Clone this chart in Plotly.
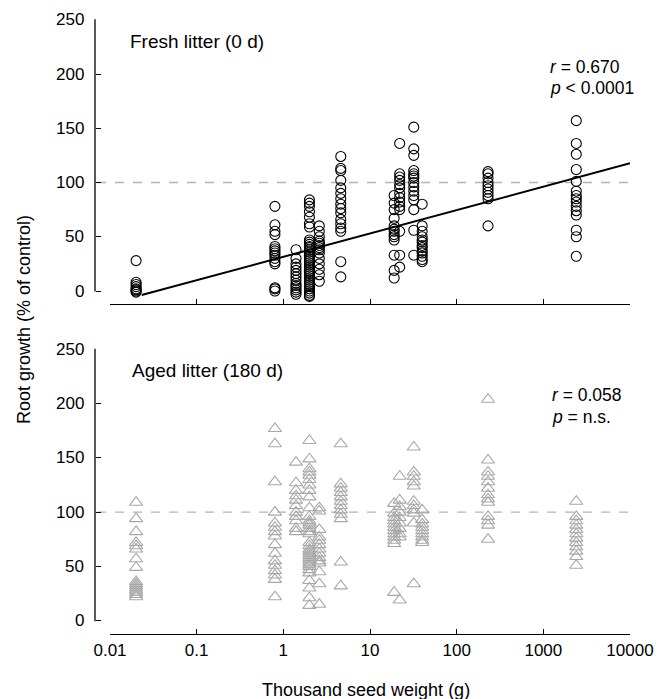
import plotly.graph_objects as go
import math

W, H = 657, 699

# ---------------- data ----------------
seed_weights = [0.02, 0.8, 1.4, 2.0, 2.6, 4.6, 19, 22, 32, 40, 230, 2400]
x_ticks = [0.01, 0.1, 1, 10, 100, 1000, 10000]
x_tick_labels = ["0.01", "0.1", "1", "10", "100", "1000", "10000"]
y_ticks = [0, 50, 100, 150, 200, 250]

fresh_growth = [
    [28, 8, 6, 4, 2, 1, 0, -1],
    [78, 61, 55, 52, 41, 39, 37, 35, 33, 30, 27, 25, 3, 2, 0],
    [38, 30, 25, 22, 19, 16, 13, 10, 7, 5, 3, 1, -1, -3],
    [84, 81, 78, 73, 68, 62, 59, 47, 45, 43, 41, 40, 38, 36, 34, 32, 30, 28, 26, 24,
     22, 20, 18, 16, 14, 12, 10, 8, 6, 4, 2, 0, -2, -4, -5],
    [60, 55, 50, 46, 44, 42, 40, 38, 35, 30, 25, 20, 15, 9],
    [124, 113, 111, 102, 95, 90, 85, 80, 76, 72, 66, 62, 58, 55, 27, 13],
    [88, 81, 75, 67, 60, 57, 55, 52, 50, 47, 33, 19, 12],
    [136, 108, 105, 102, 98, 95, 90, 86, 82, 78, 75, 55, 33, 22],
    [151, 131, 125, 111, 108, 106, 104, 100, 96, 92, 88, 84, 75, 56, 33],
    [80, 60, 55, 50, 47, 45, 42, 40, 37, 35, 32, 29, 27],
    [110, 108, 104, 100, 97, 94, 91, 88, 85, 60],
    [157, 136, 126, 112, 101, 92, 88, 85, 82, 78, 74, 70, 56, 50, 32],
]

aged_growth = [
    [109, 94, 82, 72, 69, 66, 57, 49, 36, 34, 32, 30, 28, 26, 24, 22],
    [177, 163, 128, 100, 90, 86, 82, 78, 70, 62, 55, 51, 46, 42, 38, 22],
    [146, 127, 120, 115, 111, 106, 100, 96, 92, 85, 82],
    [166, 149, 140, 137, 134, 130, 125, 120, 114, 104, 96, 92, 90, 88, 85, 82, 80,
     72, 69, 66, 64, 62, 60, 58, 56, 54, 52, 50, 47, 44, 37, 30, 21, 14],
    [104, 101, 84, 77, 74, 70, 66, 62, 58, 55, 53, 45, 34, 15],
    [163, 126, 122, 118, 114, 110, 106, 102, 98, 94, 54, 32],
    [108, 99, 95, 92, 89, 86, 83, 80, 77, 74, 71, 26],
    [133, 111, 105, 100, 95, 90, 85, 80, 77, 19],
    [160, 137, 133, 128, 124, 110, 106, 102, 99, 90, 34],
    [102, 93, 89, 86, 83, 80, 77, 74, 72],
    [204, 148, 137, 133, 128, 122, 116, 112, 109, 96, 92, 88, 75],
    [110, 96, 92, 88, 84, 80, 76, 72, 68, 64, 59, 51],
]

# regression for fresh litter: growth = intercept + slope * log10(weight)
fit_intercept = 31.5
fit_slope = 21.55
fit_x = [0.0232, 10000]

control_level = 100

# ---------------- helpers ----------------
def flatten(groups):
    xs, ys = [], []
    for w, vals in zip(seed_weights, groups):
        for v in vals:
            xs.append(w)
            ys.append(v)
    return xs, ys

fx, fy = flatten(fresh_growth)
ax_, ay = flatten(aged_growth)
fit_y = [fit_intercept + fit_slope * math.log10(v) for v in fit_x]

def px_x(p):
    return p / W

def px_y(p):
    return (H - p) / H

FONT = "Liberation Sans, Arial, sans-serif"
GRAY = "#a8a8a8"

# pixel geometry
PX_PER_UNIT = 54.25 / 50
Y_LOW = -8                      # axis range starts a bit below 0 so nothing is clipped
top_zero, bot_zero = 291.0, 620.7
top_250 = top_zero - 250 * PX_PER_UNIT
bot_250 = bot_zero - 250 * PX_PER_UNIT
top_low = top_zero - Y_LOW * PX_PER_UNIT
bot_low = bot_zero - Y_LOW * PX_PER_UNIT
YAX_X = 95

fig = go.Figure()

fig.add_trace(go.Scatter(
    x=fx, y=fy, mode="markers", xaxis="x", yaxis="y", cliponaxis=False,
    marker=dict(symbol="circle-open", size=10, color="black", line=dict(width=1.1)),
    showlegend=False))
fig.add_trace(go.Scatter(
    x=fit_x, y=fit_y, mode="lines", xaxis="x", yaxis="y", cliponaxis=False,
    line=dict(color="black", width=2), showlegend=False))
fig.add_trace(go.Scatter(
    x=ax_, y=ay, mode="markers", xaxis="x2", yaxis="y2", cliponaxis=False,
    marker=dict(symbol="triangle-up-open", size=11.5, color=GRAY, line=dict(width=1.1)),
    showlegend=False))

xdom = [px_x(110), px_x(630)]
common_x = dict(type="log", range=[-2, 4], domain=xdom, anchor="free",
                automargin=False,
                showline=True, linecolor="black", linewidth=1.3,
                ticks="inside", ticklen=5, tickwidth=1.3, tickcolor="black",
                tickvals=x_ticks, ticktext=x_tick_labels,
                showgrid=False, zeroline=False,
                tickfont=dict(family=FONT, size=17, color="black"))
common_y = dict(range=[Y_LOW, 250], anchor="free", position=px_x(YAX_X),
                automargin=False,
                showline=False, showticklabels=False,
                ticks="inside", ticklen=5, tickwidth=1.3, tickcolor="black",
                tickvals=y_ticks,
                showgrid=False, zeroline=False)

fig.update_layout(
    width=W, height=H,
    margin=dict(l=0, r=0, t=0, b=0, pad=0, autoexpand=False),
    paper_bgcolor="white", plot_bgcolor="white",
    xaxis=dict(common_x, position=px_y(304), showticklabels=False),
    yaxis=dict(common_y, domain=[px_y(top_low), px_y(top_250)]),
    xaxis2=dict(common_x, position=px_y(634), showticklabels=True),
    yaxis2=dict(common_y, domain=[px_y(bot_low), px_y(bot_250)]),
    showlegend=False,
)

# y axis lines only from 0 to 250
for z, t in [(top_zero, top_250), (bot_zero, bot_250)]:
    fig.add_shape(type="line", xref="paper", yref="paper",
                  x0=px_x(YAX_X), x1=px_x(YAX_X), y0=px_y(z + 0.6), y1=px_y(t - 0.6),
                  line=dict(color="black", width=1.3))

# y tick labels placed next to the axis
tick_font = dict(family=FONT, size=17, color="black")
for yr in ["y", "y2"]:
    for v in y_ticks:
        fig.add_annotation(text=str(v), xref="paper", yref=yr, x=px_x(86), y=v,
                           xanchor="right", yanchor="middle", showarrow=False,
                           font=tick_font)

for yr in ["y", "y2"]:
    fig.add_shape(type="line", xref="paper", yref=yr,
                  x0=px_x(97), x1=px_x(632), y0=control_level, y1=control_level,
                  line=dict(color="#b4b4b4", width=1.3, dash="dash"), layer="below")

lab_font = dict(family=FONT, size=19, color="black")
stat_font = dict(family=FONT, size=17.5, color="black")
anns = [
    ("Fresh litter (0 d)", 128, 41, lab_font),
    ("Aged litter (180 d)", 130, 370, lab_font),
    ("<i>r</i> = 0.670", 548, 67, stat_font),
    ("<i>p</i> &lt; 0.0001", 548, 88, stat_font),
    ("<i>r</i> = 0.058", 550, 395, stat_font),
    ("<i>p</i> = n.s.", 550, 417, stat_font),
]
for t, x, y, f in anns:
    fig.add_annotation(text=t, xref="paper", yref="paper", x=px_x(x), y=px_y(y),
                       xanchor="left", yanchor="middle", showarrow=False, font=f)

ttl_font = dict(family=FONT, size=18, color="black")
fig.add_annotation(text="Thousand seed weight (g)", xref="paper", yref="paper",
                   x=px_x(366), y=px_y(690), xanchor="center", yanchor="middle",
                   showarrow=False, font=ttl_font)
fig.add_annotation(text="Root growth (% of control)", xref="paper", yref="paper",
                   x=px_x(24), y=px_y(320), xanchor="center", yanchor="middle",
                   textangle=-90, showarrow=False, font=ttl_font)

fig.write_html("out.html",
               config={"displayModeBar": False},
               post_script="document.body.style.margin='0px';document.body.style.padding='0px';")
